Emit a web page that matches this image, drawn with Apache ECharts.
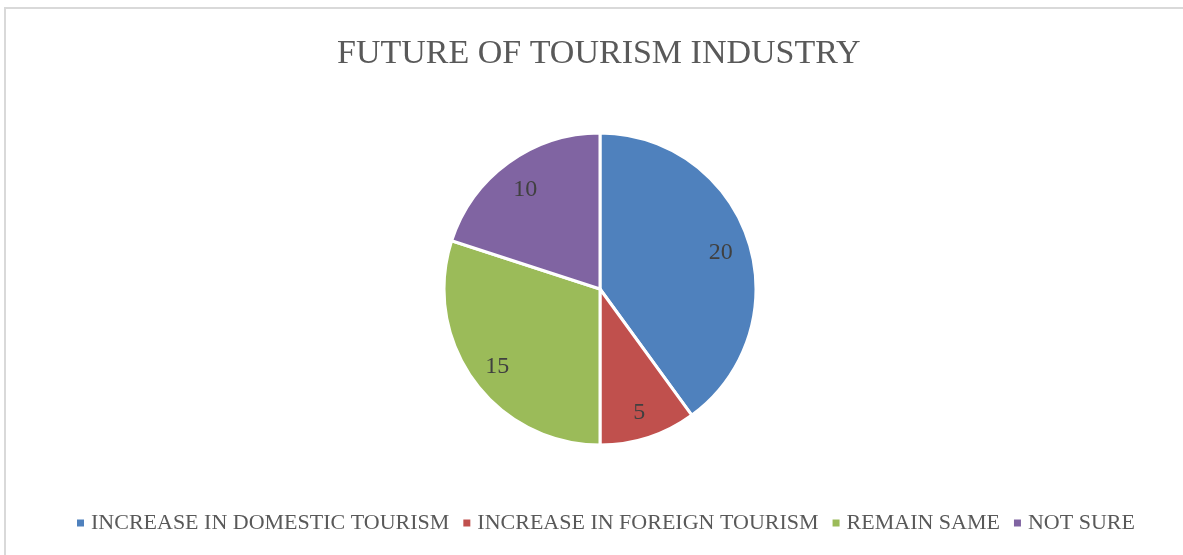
<!DOCTYPE html>
<html>
<head>
<meta charset="utf-8">
<script src="https://cdn.jsdelivr.net/npm/echarts@6/dist/echarts.min.js"></script>
<style>
html,body{margin:0;padding:0;background:#fff;}
#chart{width:1183px;height:555px;}
</style>
</head>
<body>
<div id="chart"></div>
<script>
const titleText = "FUTURE OF TOURISM INDUSTRY";
const categories = ["INCREASE IN DOMESTIC TOURISM", "INCREASE IN FOREIGN TOURISM", "REMAIN SAME", "NOT SURE"];
const values = [20, 5, 15, 10];
const colors = ["#4F81BD", "#C0504D", "#9BBB59", "#8064A2"];

const FONT = "'Liberation Serif', 'DejaVu Serif', serif";
const pieData = categories.map((c, i) => ({ name: c, value: values[i], itemStyle: { color: colors[i] } }));
const labelData = categories.map((c, i) => ({ name: c, value: values[i] }));

const chart = echarts.init(document.getElementById('chart'));
chart.setOption({
  animation: false,
  backgroundColor: '#ffffff',
  graphic: [{
    type: 'rect', silent: true,
    shape: { x: 5, y: 8, width: 1200, height: 600 },
    style: { fill: 'none', stroke: '#d9d9d9', lineWidth: 2 }
  }],
  title: {
    text: titleText, left: 332, top: 32,
    textStyle: { fontFamily: FONT, fontSize: 34, fontWeight: 'normal', color: '#595959' }
  },
  legend: {
    data: categories, bottom: 16, left: 70,
    icon: 'rect', itemWidth: 9, itemHeight: 9, itemGap: 12,
    textStyle: { fontFamily: FONT, fontSize: 22, color: '#595959', padding: [0, 0, 0, 1] }
  },
  series: [{
    type: 'pie', center: [600, 289], radius: [0, 156], startAngle: 90, clockwise: true,
    data: pieData,
    itemStyle: { borderColor: '#ffffff', borderWidth: 3 },
    label: { show: false }, labelLine: { show: false },
    emphasis: { disabled: true }
  }, {
    type: 'pie', center: [600, 292], radius: [92, 156], startAngle: 90, clockwise: true,
    data: labelData, silent: true,
    itemStyle: { color: 'transparent', borderWidth: 0 },
    label: { show: true, position: 'inside', formatter: '{c}', fontFamily: FONT, fontSize: 24, color: '#404040' },
    labelLine: { show: false },
    emphasis: { disabled: true }
  }]
});
</script>
</body>
</html>
